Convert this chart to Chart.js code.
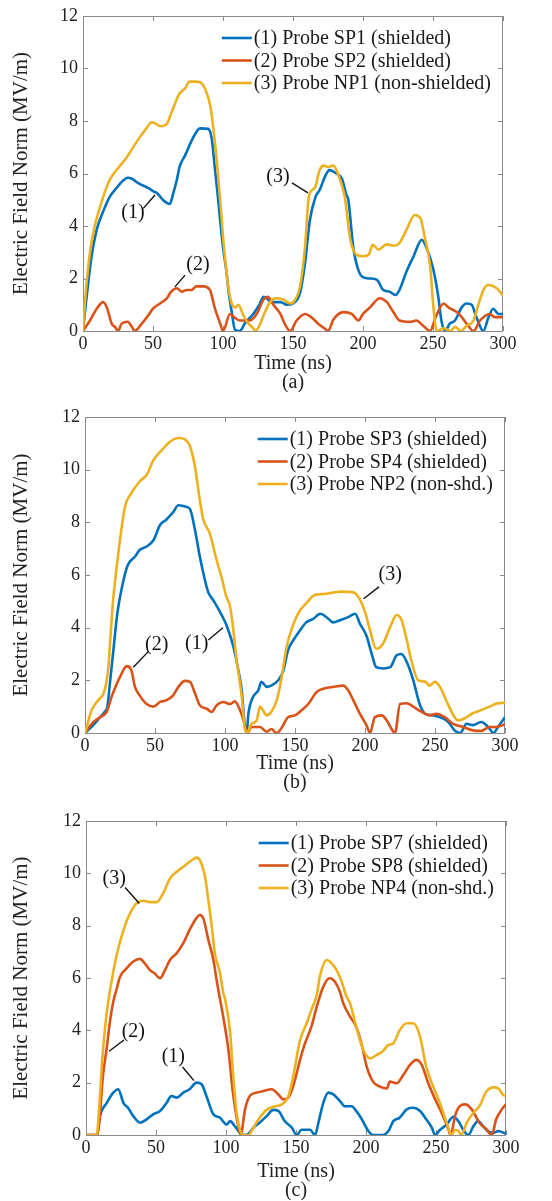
<!DOCTYPE html>
<html>
<head>
<meta charset="utf-8">
<title>Electric field norm at probes</title>
<script src="https://cdn.jsdelivr.net/npm/chart.js@4.4.1/dist/chart.umd.min.js"></script>
<style>
  body { margin: 0; background: #fff; }
  #wrap { position: relative; width: 552px; height: 1201px; }
  canvas { position: absolute; left: 0; }
</style>
</head>
<body>
<div id="wrap">
  <canvas id="chartA" width="552" height="392" style="top:0px"></canvas>
  <canvas id="chartB" width="552" height="392" style="top:400px"></canvas>
  <canvas id="chartC" width="552" height="400" style="top:800px"></canvas>
</div>
<script>
// time in ns, field norm in MV/m
const timeTicks = [0, 50, 100, 150, 200, 250, 300];
const fieldTicks = [0, 2, 4, 6, 8, 10, 12];

// (a)
const probeSP1 = [[0,0],[3,1.5],[6,2.8],[10,3.9],[14,4.5],[19,5.1],[24,5.45],[28,5.7],[32,5.84],[35,5.8],[39.5,5.63],[46.5,5.45],[51,5.3],[53,5.25],[57,5.0],[62,4.84],[64.5,5.25],[67,5.75],[69,6.26],[73,6.7],[79,7.4],[83.6,7.72],[89.5,7.7],[92,7.3],[94,6.3],[96,5.3],[98,4.2],[100,3.2],[102.6,2.2],[104,1.5],[106,0.8],[108.6,0.05],[112,0],[115.7,0.3],[121.6,0.65],[126,1.0],[129,1.3],[131,1.25],[135,1.1],[141,1.1],[145.5,1.0],[150,1.05],[155,1.45],[158.6,2.6],[162,4.2],[166,5.1],[169,5.37],[173,5.9],[176,6.13],[181,6.0],[185,5.8],[188,5.2],[189.5,5.0],[193,3.2],[196.7,2.32],[200,2.05],[205,2.0],[210,1.95],[214.5,1.56],[219,1.5],[223,1.37],[226,1.56],[231,2.26],[236,2.83],[242,3.47],[245.5,3.15],[250,2.4],[253.8,1.3],[256,0.4],[258.6,0],[262,0.28],[265.7,0.4],[270.5,0.9],[274,1.05],[277.6,1.0],[281,0.53],[286,0],[289.5,0.5],[293,0.85],[296.7,0.65],[300,0.65]];
const probeSP2 = [[0,0],[5,0.4],[9.8,0.85],[14.5,1.1],[17,0.9],[20.5,0.28],[23,0.15],[25,0],[27.6,0.28],[32,0.35],[35,0.15],[37,0],[42,0.28],[46.7,0.6],[50,0.85],[55,1.05],[60,1.25],[63,1.5],[67,1.63],[70.5,1.5],[74,1.56],[77.6,1.56],[81,1.7],[86,1.7],[90.7,1.56],[94,0.9],[98,0.28],[100,0],[105,0.65],[108.6,0.5],[112,0.4],[119,0.4],[124,0.65],[129,1.2],[132,1.3],[136,1.0],[141,0.65],[144,0.28],[148,0],[152.6,0.4],[158.6,0.65],[163,0.53],[168,0.28],[173,0.08],[175,0],[179,0.45],[186,0.72],[192,0.65],[196.7,0.4],[200,0.65],[205,0.9],[212,1.25],[217,1.1],[221.7,0.72],[226,0.4],[233.6,0.35],[238,0.4],[243,0.2],[248,0],[251.7,0.5],[257.6,1.05],[261,0.9],[267,0.72],[270.5,0.53],[274,0.28],[279,0],[283.6,0.4],[290.7,0.65],[294,0.53],[300,0.53]];
const probeNP1 = [[0,0],[2,1.5],[5,3.0],[8,3.9],[12,4.7],[19,5.75],[25,6.2],[31,6.6],[39.5,7.3],[45,7.7],[49,7.95],[52,7.9],[55,7.8],[60,7.9],[63,8.3],[69,9.05],[73,9.25],[76,9.5],[80,9.5],[83.6,9.48],[87,9.25],[91,8.55],[94,7.3],[96,6.2],[98,5.0],[100,3.6],[102,2.5],[104,1.6],[107,0.95],[109,0.9],[111,1.0],[114.5,0.6],[118,0.3],[121.7,0.1],[123,0],[126,0.2],[129,0.6],[133.6,1.1],[138,1.25],[143,1.2],[148,1.05],[151,1.15],[155,1.7],[158.6,3.2],[161,5.0],[162,5.25],[166,5.5],[169,6.13],[172,6.3],[175,6.25],[179,6.3],[182,6.0],[186,5.35],[187,5.1],[191,3.47],[195.5,2.9],[200,2.85],[204,2.9],[207,3.28],[211,3.1],[217,3.3],[222,3.25],[226,3.35],[231,3.85],[237,4.42],[241,4.3],[244,3.6],[248,2.45],[250,1.1],[252.6,0],[258,0.1],[262,0],[266,0.15],[270,0],[274,0.2],[279,0.4],[282,0.93],[286,1.56],[289.5,1.75],[295.5,1.63],[300,1.35]];

// (b)
const probeSP3 = [[0,0],[5,0.25],[10,0.55],[14,0.8],[16,1.0],[18,2.0],[20,3.0],[23,4.5],[26,5.43],[30,6.3],[32,6.5],[35.7,6.7],[39,6.95],[44,7.08],[49,7.33],[53.6,7.9],[58,8.1],[63,8.39],[66.7,8.65],[71.4,8.6],[75,8.5],[78.6,7.7],[82,6.7],[85.7,5.8],[88,5.35],[91.5,5.05],[96.4,4.6],[101,4.1],[106,3.28],[109.5,2.39],[112,1.6],[114,0.35],[115.5,0],[116.7,0.73],[120,1.37],[123.8,1.62],[126,1.94],[130,1.75],[133,1.8],[138,2.0],[141.7,2.37],[145,3.14],[149,3.54],[153.6,3.9],[158,4.2],[163,4.33],[168,4.53],[174,4.33],[177,4.2],[183,4.3],[188,4.4],[193,4.53],[196.4,4.15],[201,3.7],[204.8,3.0],[208,2.5],[213,2.45],[218,2.5],[222.6,2.95],[226,3.0],[229.8,2.7],[234.5,2.0],[239,1.1],[243,0.73],[249,0.67],[253.6,0.6],[259.5,0.42],[264,0.1],[268,0],[272.6,0.35],[277,0.3],[283,0.42],[288,0.23],[291.7,0],[295,0.23],[300,0.6]];
const probeSP4 = [[0,0],[4.8,0.35],[10.7,0.6],[15.5,0.8],[19,1.37],[25,2.13],[29.8,2.54],[33,2.4],[35.7,1.75],[39,1.43],[44,1.1],[49,1.0],[53.6,1.18],[58,1.24],[63,1.43],[66.7,1.75],[71.4,1.98],[75,1.94],[78.6,1.5],[82,1.05],[87,0.92],[90.5,0.8],[94,1.05],[98.8,1.18],[103.6,1.1],[107,1.2],[110.7,0.87],[114,0.35],[116,0],[119,0.23],[125,0.23],[129.8,0.05],[133,0.15],[137,0],[140.5,0.2],[145,0.6],[150,0.67],[154.8,0.87],[159.5,1.1],[165.5,1.56],[171.4,1.7],[177,1.75],[184.5,1.8],[188,1.62],[191.7,1.24],[196.4,0.73],[201,0.3],[203.6,0],[207,0.6],[212,0.67],[215.5,0.48],[219,0.15],[221.4,0],[225,1.1],[229.8,1.13],[234.5,1.0],[240.5,0.8],[246.4,0.67],[251,0.73],[257,0.6],[263,0.35],[270,0.23],[277,0.1],[283,0.08],[289,0.23],[294,0.23],[300,0.33]];
const probeNP2 = [[0,0],[4.8,0.87],[9.5,1.25],[14,1.62],[16.7,2.5],[18,3.5],[20,5.0],[22,6.0],[25,7.33],[28.6,8.6],[33,9.1],[39,9.55],[44,9.8],[49,10.37],[55,10.75],[61,11.07],[67,11.2],[71.4,11.15],[75,10.9],[78.6,10.1],[82,8.85],[84.5,8.1],[89,7.6],[94,6.57],[97.6,5.9],[101,5.17],[103.6,4.8],[106,3.9],[108,2.89],[112,1.37],[114,0.23],[115.5,0],[119,0.35],[122.6,0.48],[125,1.0],[127,0.87],[129.8,0.67],[133,0.8],[137,1.25],[140.5,2.13],[144,3.27],[149,4.15],[153.6,4.66],[158,4.92],[164,5.24],[171,5.28],[177,5.33],[183,5.37],[191.7,5.34],[196,5.1],[200,4.6],[203.6,3.9],[208,3.2],[213,3.4],[218,4.03],[222.6,4.48],[226,4.3],[229.8,3.54],[233,2.78],[238,2.0],[243,1.95],[246,1.8],[250,1.94],[253.6,1.74],[258,1.24],[264,0.6],[266.7,0.48],[271,0.55],[277,0.75],[283,0.87],[289,1.0],[294,1.12],[300,1.15]];

// (c)
const probeSP7 = [[0,0],[8,0],[10,0.72],[14.8,1.23],[19.5,1.62],[23,1.75],[26.7,1.23],[30,1.04],[33.8,0.72],[38.6,0.47],[43.3,0.6],[48,0.79],[52.9,0.92],[57.6,1.23],[61,1.49],[64.8,1.43],[69.5,1.62],[74,1.75],[79,2.0],[82.6,1.94],[86,1.49],[91,0.79],[95.7,0.66],[100.5,0.4],[103,0.53],[106.4,0.33],[110,0.08],[113.6,0],[116,0.05],[119.5,0.28],[124,0.47],[129,0.72],[133.8,0.96],[137.4,0.92],[142,0.53],[147,0.28],[150.5,0],[154,0.2],[160,0.2],[163.6,0],[166,0.47],[169.5,1.23],[173,1.62],[176.7,1.55],[181.4,1.3],[185,1.1],[189.8,1.1],[193,0.92],[197,0.6],[201.7,0.15],[205,0],[212,0],[216,0.15],[219.5,0.53],[224,0.66],[229,0.98],[233.8,1.04],[238.6,0.92],[243,0.6],[247,0.28],[249.3,0],[252.9,0.2],[257.6,0.4],[262.4,0.7],[266,0.53],[269.5,0.2],[273,0],[276.7,0.33],[280,0.53],[283.8,0.33],[287,0.15],[291,0.08],[294.5,0.15],[300,0.05]];
const probeSP8 = [[0,0],[8,0],[9.5,0.5],[12,2.2],[15,3.4],[17,4.3],[19.5,5.1],[22,5.6],[24.3,6.05],[29,6.37],[33.8,6.63],[38.6,6.73],[42,6.56],[45.7,6.3],[49,6.18],[52.9,5.99],[56.4,6.3],[60,6.69],[64.8,6.95],[69.5,7.33],[74,7.84],[78,8.22],[81.4,8.41],[83.8,8.28],[87.4,7.45],[91,6.69],[93.3,5.92],[95,5.4],[98,4.52],[101.7,3.26],[105,1.59],[108.8,0.33],[110.5,0],[113.6,0.98],[117,1.49],[122,1.62],[126.7,1.68],[132.6,1.75],[137.4,1.55],[141,1.36],[144.5,1.43],[148,1.87],[152.9,2.87],[156.4,3.5],[161,4.14],[164.8,4.9],[169.5,5.67],[174,5.99],[177.8,5.86],[181.4,5.47],[183.8,5.03],[188.6,4.52],[193,4.14],[197,3.44],[200.5,2.61],[205,2.04],[210,1.85],[214.8,1.78],[217,2.04],[222,1.98],[226.7,2.3],[231.4,2.68],[236,2.87],[239.8,2.68],[244.5,1.98],[249,1.41],[255,0.73],[258.8,0.22],[260.5,0],[263.6,0.73],[267,1.1],[270.7,1.17],[275.5,0.98],[281,0.47],[286,0.22],[289.8,0],[293,0.6],[297,0.98],[300,1.17]];
const probeNP4 = [[0,0],[7.6,0],[9,0.7],[11.5,2.8],[14,4.3],[16.5,5.3],[19,6.1],[22,6.9],[25.5,7.6],[30,8.3],[36,8.85],[41,8.95],[45.7,8.9],[50.5,8.9],[55,9.23],[60,9.8],[64.8,10.06],[70.7,10.3],[75.5,10.5],[79,10.6],[81.4,10.5],[85,9.87],[87.4,8.97],[90,7.9],[92,6.95],[95.7,6.2],[98,5.45],[99.3,5.2],[103,3.9],[105,2.37],[107.6,0.84],[110,0.2],[112.4,0],[116,0],[119.5,0.28],[124,0.66],[129,0.96],[133.8,1.08],[139.8,1.17],[144.5,1.47],[148,2.24],[152.9,3.63],[157.6,4.27],[161,4.78],[164.8,5.35],[167,6.05],[172,6.69],[175.5,6.56],[179,6.3],[182.6,5.86],[186,5.3],[188.6,5.03],[193,4.14],[198,3.26],[203,2.93],[207.6,3.06],[212,3.2],[216,3.44],[219.5,3.5],[224,4.0],[229,4.27],[233.8,4.27],[238.6,3.76],[243,2.61],[248,1.85],[252.9,1.21],[257.6,0.47],[261,0],[263.6,0.2],[266,0.15],[268,0],[272,0.47],[276.7,0.85],[281,1.1],[286,1.66],[291,1.82],[294.5,1.78],[298,1.53],[300,1.5]];

// callout labels: text centre, then leader line start and end (data units)
const calloutsA = [
  ['(1)', 35.7, 4.5, 43.1, 4.67, 51.4, 5.18],
  ['(2)', 82.1, 2.51, 72.9, 2.13, 65.7, 1.68],
  ['(3)', 139.3, 5.87, 149.3, 5.64, 160.7, 5.26]
];
const calloutsB = [
  ['(2)', 51.2, 3.34, 45.2, 3.09, 34.5, 2.5],
  ['(1)', 79.8, 3.4, 88.1, 3.53, 98.5, 4.0],
  ['(3)', 218, 6.0, 210, 5.55, 199, 5.1]
];
const calloutsC = [
  ['(1)', 62.4, 3.0, 69, 2.6, 77.1, 2.08],
  ['(2)', 33.8, 3.95, 27.1, 3.63, 16.5, 3.2],
  ['(3)', 20.2, 9.78, 27.9, 9.46, 38.1, 8.85]
];

const SERIF = "'Liberation Serif', 'Times New Roman', serif";
const BLUE = '#0072BD', ORANGE = '#D95319', YELLOW = '#EDB120';

const toXY = arr => arr.map(p => ({x: p[0], y: p[1]}));

const frame = {
  id: 'frame',
  beforeDatasetsDraw(chart) {
    const {ctx, chartArea: a, scales: {x, y}} = chart;
    ctx.save();
    ctx.strokeStyle = '#8a8a8a';
    ctx.lineWidth = 1;
    ctx.beginPath();
    x.ticks.forEach(t => {
      const px = Math.round(x.getPixelForValue(t.value)) + 0.5;
      ctx.moveTo(px, a.bottom); ctx.lineTo(px, a.bottom - 5);
      ctx.moveTo(px, a.top); ctx.lineTo(px, a.top + 5);
    });
    y.ticks.forEach(t => {
      const py = Math.round(y.getPixelForValue(t.value)) + 0.5;
      ctx.moveTo(a.left, py); ctx.lineTo(a.left + 5, py);
      ctx.moveTo(a.right, py); ctx.lineTo(a.right - 5, py);
    });
    ctx.stroke();
    ctx.strokeRect(a.left + 0.5, a.top + 0.5, a.right - a.left - 1, a.bottom - a.top);
    ctx.restore();
  }
};

const insideLegend = {
  id: 'insideLegend',
  afterDatasetsDraw(chart) {
    const {ctx, chartArea: a} = chart;
    const sets = chart.data.datasets;
    ctx.save();
    ctx.font = '20px ' + SERIF;
    const w = Math.max(...sets.map(d => ctx.measureText(d.label).width));
    const tx = a.right - 12 - w;
    sets.forEach((d, i) => {
      const yy = a.top + 22 + i * 22.5;
      ctx.strokeStyle = d.borderColor;
      ctx.lineWidth = 2.6;
      ctx.beginPath();
      ctx.moveTo(tx - 32, yy); ctx.lineTo(tx - 2, yy);
      ctx.stroke();
      ctx.fillStyle = '#1a1a1a';
      ctx.textAlign = 'left';
      ctx.textBaseline = 'middle';
      ctx.fillText(d.label, tx, yy + 1);
    });
    ctx.restore();
  }
};

const calloutPlugin = {
  id: 'callouts',
  afterDatasetsDraw(chart) {
    const list = chart.config.options.calloutList || [];
    const {ctx, scales: {x, y}} = chart;
    ctx.save();
    ctx.strokeStyle = '#111';
    ctx.lineWidth = 1.4;
    ctx.fillStyle = '#111';
    ctx.font = '20px ' + SERIF;
    ctx.textAlign = 'center';
    ctx.textBaseline = 'middle';
    list.forEach(c => {
      ctx.beginPath();
      ctx.moveTo(x.getPixelForValue(c[3]), y.getPixelForValue(c[4]));
      ctx.lineTo(x.getPixelForValue(c[5]), y.getPixelForValue(c[6]));
      ctx.stroke();
      ctx.fillText(c[0], x.getPixelForValue(c[1]), y.getPixelForValue(c[2]));
    });
    ctx.restore();
  }
};

function makePanel(id, tag, lines, callouts, box) {
  const ctx = document.getElementById(id).getContext('2d');
  const h = ctx.canvas.height;
  const colors = [BLUE, ORANGE, YELLOW];
  return new Chart(ctx, {
    type: 'line',
    data: {
      datasets: lines.map((l, i) => ({
        label: l.label,
        data: toXY(l.data),
        borderColor: colors[i],
        backgroundColor: colors[i],
        borderWidth: 2.6,
        pointRadius: 0,
        fill: false,
        tension: 0.4,
        cubicInterpolationMode: 'monotone',
        order: 3 - i
      }))
    },
    options: {
      responsive: false,
      animation: false,
      devicePixelRatio: 1,
      calloutList: callouts,
      layout: { padding: { top: box.top, right: 552 - box.right, left: 0, bottom: 0 } },
      plugins: { legend: { display: false }, tooltip: { enabled: false } },
      scales: {
        x: {
          type: 'linear', min: 0, max: 300,
          afterBuildTicks: s => { s.ticks = timeTicks.map(v => ({value: v})); },
          afterFit: s => { s.height = h - box.bottom; },
          ticks: { color: '#222', padding: 2, maxRotation: 0, autoSkip: false, font: { family: SERIF, size: 18 } },
          grid: { display: false, drawTicks: false },
          border: { display: false },
          title: {
            display: true, text: ['Time (ns)', tag], color: '#222',
            font: { family: SERIF, size: 20, lineHeight: 0.95 }, padding: { top: 0, bottom: 0 }
          }
        },
        y: {
          type: 'linear', min: 0, max: 12,
          afterBuildTicks: s => { s.ticks = fieldTicks.map(v => ({value: v})); },
          afterFit: s => { s.width = box.left; },
          ticks: { color: '#222', padding: 5, font: { family: SERIF, size: 18 } },
          grid: { display: false, drawTicks: false },
          border: { display: false },
          title: {
            display: true, text: 'Electric Field Norm (MV/m)', color: '#222',
            font: { family: SERIF, size: 21 }, padding: { top: 9, bottom: 0 }
          }
        }
      }
    },
    plugins: [frame, insideLegend, calloutPlugin]
  });
}

document.addEventListener('DOMContentLoaded', function() {
  makePanel('chartA', '(a)', [
    { label: '(1) Probe SP1 (shielded)', data: probeSP1 },
    { label: '(2) Probe SP2 (shielded)', data: probeSP2 },
    { label: '(3) Probe NP1 (non-shielded)', data: probeNP1 }
  ], calloutsA, { top: 16, left: 83, right: 503, bottom: 331 });

  makePanel('chartB', '(b)', [
    { label: '(1) Probe SP3 (shielded)', data: probeSP3 },
    { label: '(2) Probe SP4 (shielded)', data: probeSP4 },
    { label: '(3) Probe NP2 (non-shd.)', data: probeNP2 }
  ], calloutsB, { top: 17, left: 85, right: 505, bottom: 333 });

  makePanel('chartC', '(c)', [
    { label: '(1) Probe SP7 (shielded)', data: probeSP7 },
    { label: '(2) Probe SP8 (shielded)', data: probeSP8 },
    { label: '(3) Probe NP4 (non-shd.)', data: probeNP4 }
  ], calloutsC, { top: 21, left: 86, right: 506, bottom: 335 });
});
</script>
</body>
</html>
